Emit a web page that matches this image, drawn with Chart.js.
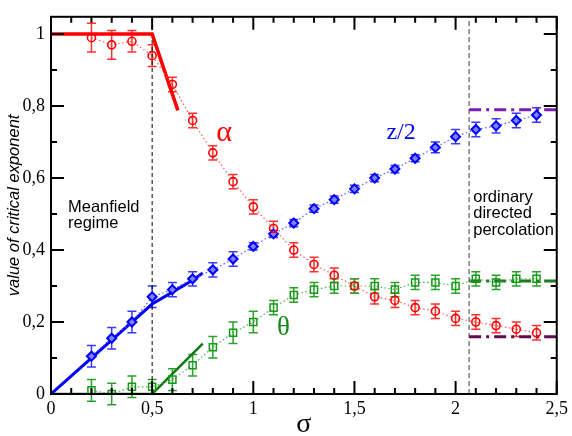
<!DOCTYPE html>
<html>
<head>
<meta charset="utf-8">
<script src="https://cdn.jsdelivr.net/npm/chart.js@4"></script>
<style>
    body { margin: 0; background: #fff; }
</style>
</head>
<body>
<canvas id="grafico" width="572" height="436"></canvas>
<script>
// valores de sigma simulados
const sigma = [0.2, 0.3, 0.4, 0.5, 0.6, 0.7, 0.8, 0.9, 1.0, 1.1, 1.2, 1.3, 1.4, 1.5, 1.6, 1.7, 1.8, 1.9, 2.0, 2.1, 2.2, 2.3, 2.4];

// expoentes medidos e seus erros
const alpha    = [0.99, 0.97, 0.98, 0.94, 0.86, 0.76, 0.67, 0.59, 0.52, 0.46, 0.40, 0.36, 0.33, 0.30, 0.27, 0.26, 0.24, 0.23, 0.21, 0.20, 0.19, 0.18, 0.17];
const alphaErr = [0.04, 0.04, 0.03, 0.03, 0.02, 0.02, 0.02, 0.02, 0.02, 0.02, 0.02, 0.02, 0.02, 0.02, 0.02, 0.02, 0.02, 0.02, 0.02, 0.02, 0.02, 0.02, 0.02];
const z2       = [0.105, 0.155, 0.20, 0.27, 0.29, 0.32, 0.345, 0.375, 0.41, 0.445, 0.475, 0.515, 0.54, 0.57, 0.60, 0.625, 0.655, 0.685, 0.715, 0.735, 0.745, 0.76, 0.775];
const z2Err    = [0.03, 0.03, 0.03, 0.03, 0.02, 0.02, 0.02, 0.02, 0.01, 0.01, 0.01, 0.01, 0.01, 0.01, 0.01, 0.01, 0.01, 0.015, 0.02, 0.02, 0.02, 0.02, 0.02];
const theta    = [0.01, 0.00, 0.02, 0.02, 0.04, 0.08, 0.13, 0.17, 0.20, 0.24, 0.275, 0.29, 0.30, 0.30, 0.30, 0.29, 0.31, 0.31, 0.30, 0.32, 0.31, 0.32, 0.32];
const thetaErr = [0.03, 0.03, 0.03, 0.02, 0.03, 0.03, 0.03, 0.03, 0.03, 0.02, 0.02, 0.02, 0.02, 0.02, 0.02, 0.02, 0.02, 0.02, 0.02, 0.02, 0.02, 0.02, 0.02];

// previsoes de campo medio / expansao epsilon
const alphaTeoX = [0, 0.5, 0.627];
const alphaTeoY = [1, 1, 0.788];
const z2TeoX    = [0, 0.5, 0.6, 0.7, 0.75];
const z2TeoY    = [0, 0.25, 0.283, 0.316, 0.336];
const thetaTeoX = [0, 0.5, 0.75];
const thetaTeoY = [0, 0, 0.14];

// percolacao direcionada ordinaria (1+1 DP)
const dpX = [2.067, 2.5];
const dpZ2 = 0.79;
const dpTheta = 0.3137;
const dpAlpha = 0.159;

// limites dos regimes
const sigmaMF = 0.5;
const sigmaDP = 2.067;

// marcas dos eixos
const xTicks = [0, 0.5, 1, 1.5, 2, 2.5];
const xTickLabels = ['0', '0,5', '1', '1,5', '2', '2,5'];
const yTicks = [0, 0.2, 0.4, 0.6, 0.8, 1];
const yTickLabels = ['0', '0,2', '0,4', '0,6', '0,8', '1'];

const yMax = 1.048;

function pontos(xs, ys) {
    return xs.map((x, i) => ({ x: x, y: ys[i] }));
}

// barras de erro
const barrasErro = {
    id: 'barrasErro',
    beforeDatasetsDraw(chart) {
        const ctx = chart.ctx;
        const y = chart.scales.y;
        chart.data.datasets.forEach((ds, i) => {
            if (!ds.erros) return;
            const meta = chart.getDatasetMeta(i);
            ctx.save();
            ctx.strokeStyle = ds.corErro;
            ctx.lineWidth = 1.5;
            ctx.beginPath();
            meta.data.forEach((p, j) => {
                const v = ds.data[j].y;
                const top = y.getPixelForValue(v + ds.erros[j]);
                const bot = y.getPixelForValue(v - ds.erros[j]);
                ctx.moveTo(p.x, top); ctx.lineTo(p.x, bot);
                ctx.moveTo(p.x - 4.5, top); ctx.lineTo(p.x + 4.5, top);
                ctx.moveTo(p.x - 4.5, bot); ctx.lineTo(p.x + 4.5, bot);
            });
            ctx.stroke();
            ctx.restore();
        });
    }
};

// moldura com marcas para dentro nos quatro lados
const moldura = {
    id: 'moldura',
    afterDraw(chart) {
        const { ctx, chartArea: a, scales: { x, y } } = chart;
        ctx.save();
        ctx.strokeStyle = '#000';
        ctx.lineWidth = 2;
        ctx.strokeRect(a.left, a.top, a.right - a.left, a.bottom - a.top);
        ctx.beginPath();
        for (let i = 0; i <= 25; i++) {
            const px = x.getPixelForValue(i / 10);
            const len = i % 5 === 0 ? 13 : 6;
            ctx.moveTo(px, a.bottom); ctx.lineTo(px, a.bottom - len);
            ctx.moveTo(px, a.top); ctx.lineTo(px, a.top + len);
        }
        for (let i = 0; i <= 10; i++) {
            const py = y.getPixelForValue(i / 10);
            const len = i % 2 === 0 ? 13 : 6;
            ctx.moveTo(a.left, py); ctx.lineTo(a.left + len, py);
            ctx.moveTo(a.right, py); ctx.lineTo(a.right - len, py);
        }
        ctx.stroke();

        // titulos dos eixos
        ctx.fillStyle = '#000';
        ctx.textAlign = 'center';
        ctx.textBaseline = 'alphabetic';
        ctx.font = '28px "Liberation Serif"';
        ctx.fillText('σ', (a.left + a.right) / 2, a.bottom + 38);
        ctx.translate(19, (a.top + a.bottom) / 2);
        ctx.rotate(-Math.PI / 2);
        ctx.font = 'italic 16.5px "Liberation Sans"';
        ctx.fillText('value of critical exponent', 0, 0);
        ctx.restore();
    }
};

// rotulos dentro do grafico
const rotulos = [
    { texto: 'α', x: 0.817, y: 0.702, cor: '#ff0000', fonte: '30px "Liberation Serif"' },
    { texto: 'z/2', x: 1.658, y: 0.708, cor: '#0000ff', fonte: '24px "Liberation Serif"' },
    { texto: 'θ', x: 1.117, y: 0.163, cor: '#128a12', fonte: '27px "Liberation Serif"' },
    { texto: 'Meanfield', x: 0.084, y: 0.507, cor: '#000', fonte: '16.5px "Liberation Sans"' },
    { texto: 'regime', x: 0.084, y: 0.462, cor: '#000', fonte: '16.5px "Liberation Sans"' },
    { texto: 'ordinary', x: 2.087, y: 0.533, cor: '#000', fonte: '16.5px "Liberation Sans"' },
    { texto: 'directed', x: 2.087, y: 0.488, cor: '#000', fonte: '16.5px "Liberation Sans"' },
    { texto: 'percolation', x: 2.087, y: 0.442, cor: '#000', fonte: '16.5px "Liberation Sans"' }
];

const textos = {
    id: 'textos',
    afterDatasetsDraw(chart) {
        const { ctx, scales: { x, y } } = chart;
        ctx.save();
        ctx.textAlign = 'left';
        ctx.textBaseline = 'alphabetic';
        rotulos.forEach(r => {
            ctx.font = r.fonte;
            ctx.fillStyle = r.cor;
            ctx.fillText(r.texto, x.getPixelForValue(r.x), y.getPixelForValue(r.y));
        });
        ctx.restore();
    }
};

const linha = (data, cor, largura, tracejado, ordem) => ({
    data: data,
    showLine: true,
    borderColor: cor,
    borderWidth: largura,
    borderDash: tracejado,
    pointRadius: 0,
    fill: false,
    order: ordem
});

const ctx = document.getElementById('grafico').getContext('2d');
const grafico = new Chart(ctx, {
    type: 'scatter',
    data: {
        datasets: [
            {
                data: pontos(sigma, alpha),
                showLine: true,
                borderColor: '#ff5a5a',
                borderWidth: 1.2,
                borderDash: [1.5, 2.5],
                pointStyle: 'circle',
                pointRadius: 4,
                pointBorderColor: '#ff0000',
                pointBackgroundColor: 'rgba(0,0,0,0)',
                pointBorderWidth: 1.6,
                erros: alphaErr,
                corErro: '#ff3030',
                order: 1
            },
            {
                data: pontos(sigma, z2),
                showLine: true,
                borderColor: '#5a5aff',
                borderWidth: 1.2,
                borderDash: [1.5, 2.5],
                pointStyle: 'rectRot',
                pointRadius: 4.5,
                pointBorderColor: '#0000ff',
                pointBackgroundColor: '#8080ff',
                pointBorderWidth: 2,
                erros: z2Err,
                corErro: '#3a3aff',
                order: 2
            },
            {
                data: pontos(sigma, theta),
                showLine: true,
                borderColor: '#4caf4c',
                borderWidth: 1.2,
                borderDash: [1.5, 2.5],
                pointStyle: 'rect',
                pointRadius: 5,
                pointBorderColor: '#159a15',
                pointBackgroundColor: 'rgba(0,0,0,0)',
                pointBorderWidth: 1.5,
                erros: thetaErr,
                corErro: '#2ea02e',
                order: 3
            },
            linha(pontos(alphaTeoX, alphaTeoY), '#ff0000', 3.5, [], 4),
            linha(pontos(z2TeoX, z2TeoY), '#0000ff', 3, [], 4),
            linha(pontos(thetaTeoX, thetaTeoY), '#137a13', 2.5, [], 4),
            linha(pontos(dpX, [dpZ2, dpZ2]), '#7a1fb4', 3, [12, 5, 3, 5], 5),
            linha(pontos(dpX, [dpTheta, dpTheta]), '#1c7a1c', 3, [12, 5, 3, 5], 5),
            linha(pontos(dpX, [dpAlpha, dpAlpha]), '#5e0c4e', 3, [12, 5, 3, 5], 5),
            linha(pontos([sigmaMF, sigmaMF], [0, yMax]), '#000', 1, [4, 3], 6),
            linha(pontos([sigmaDP, sigmaDP], [0, yMax]), '#888', 1.6, [5, 3], 6)
        ]
    },
    options: {
        responsive: false,
        animation: false,
        layout: { padding: { top: 3, right: 13, left: 0, bottom: 0 } },
        plugins: {
            legend: { display: false },
            tooltip: { enabled: false }
        },
        scales: {
            x: {
                type: 'linear',
                min: 0,
                max: 2.5,
                afterBuildTicks: s => { s.ticks = xTicks.map(v => ({ value: v })); },
                afterFit: s => { s.height = 42; },
                grid: { display: false, drawTicks: false },
                border: { display: false },
                ticks: {
                    padding: 4,
                    color: '#000',
                    maxRotation: 0,
                    font: { family: 'Liberation Serif', size: 18 },
                    callback: (v, i) => xTickLabels[i]
                }
            },
            y: {
                type: 'linear',
                min: 0,
                max: yMax,
                afterBuildTicks: s => { s.ticks = yTicks.map(v => ({ value: v })); },
                afterFit: s => { s.width = 51; },
                grid: { display: false, drawTicks: false },
                border: { display: false },
                ticks: {
                    padding: 6,
                    color: '#000',
                    font: { family: 'Liberation Serif', size: 18 },
                    callback: (v, i) => yTickLabels[i]
                }
            }
        }
    },
    plugins: [barrasErro, textos, moldura]
});
</script>
</body>
</html>
